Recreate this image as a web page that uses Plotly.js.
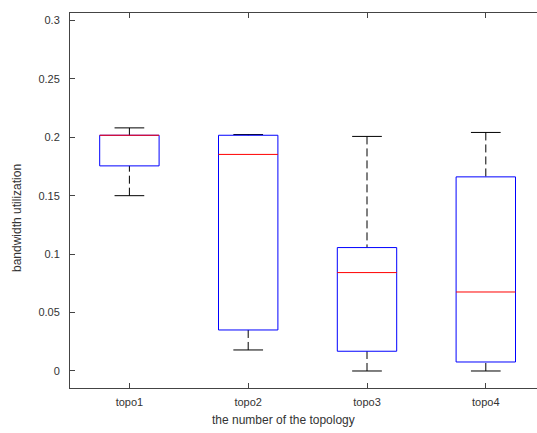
<!DOCTYPE html>
<html>
<head>
<meta charset="utf-8">
<script src="https://cdn.plot.ly/plotly-3.0.1.min.js"></script>
<style>html,body{margin:0;padding:0;background:#fff;}#chart{width:537px;height:433px;}</style>
</head>
<body>
<div id="chart"></div>
<script>
// Data
const categories   = ['topo1', 'topo2', 'topo3', 'topo4'];
const lowerWhisker = [0.150, 0.018, 0.000, 0.000];
const q1           = [0.1755, 0.0351, 0.0169, 0.0077];
const medians      = [0.2017, 0.1853, 0.0842, 0.0676];
const q3           = [0.2017, 0.2017, 0.1056, 0.1661];
const upperWhisker = [0.2080, 0.2023, 0.2007, 0.2041];
const yTicks       = [0, 0.05, 0.1, 0.15, 0.2, 0.25, 0.3];
const xTitle = 'the number of the topology';
const yTitle = 'bandwidth utilization';

const BOX_HALF = 0.25, CAP_HALF = 0.125;
const pos = categories.map((c, i) => i + 1);

const whX = [], whY = [], capX = [], capY = [], boxX = [], boxY = [], medX = [], medY = [];
pos.forEach((p, i) => {
  whX.push(p, p, null, p, p, null);
  whY.push(upperWhisker[i], q3[i], null, lowerWhisker[i], q1[i], null);
  capX.push(p - CAP_HALF, p + CAP_HALF, null, p - CAP_HALF, p + CAP_HALF, null);
  capY.push(upperWhisker[i], upperWhisker[i], null, lowerWhisker[i], lowerWhisker[i], null);
  boxX.push(p - BOX_HALF, p + BOX_HALF, p + BOX_HALF, p - BOX_HALF, p - BOX_HALF, null);
  boxY.push(q1[i], q1[i], q3[i], q3[i], q1[i], null);
  medX.push(p - BOX_HALF, p + BOX_HALF, null);
  medY.push(medians[i], medians[i], null);
});

const traces = [
  {x: whX, y: whY, mode: 'lines', line: {color: '#000', width: 1, dash: '8px,4px'}, hoverinfo: 'skip'},
  {x: capX, y: capY, mode: 'lines', line: {color: '#000', width: 1}, hoverinfo: 'skip'},
  {x: boxX, y: boxY, mode: 'lines', line: {color: '#0000ff', width: 1}, hoverinfo: 'skip'},
  {x: medX, y: medY, mode: 'lines', line: {color: '#ff0000', width: 1}, hoverinfo: 'skip'}
];

const font = {family: '"Liberation Sans", Arial, sans-serif', size: 11, color: '#333'};
const titleFont = {family: '"Liberation Sans", Arial, sans-serif', size: 12, color: '#333'};
const layout = {
  width: 537, height: 433,
  margin: {l: 70, r: 0, t: 13, b: 45, pad: 0},
  paper_bgcolor: '#fff', plot_bgcolor: '#fff',
  showlegend: false,
  font: font,
  xaxis: {
    range: [0.5, 4.431],
    tickvals: pos, ticktext: categories,
    ticks: 'inside', ticklen: 5, tickcolor: '#444', tickwidth: 1,
    showline: true, linecolor: '#444', linewidth: 1, mirror: 'ticks',
    showgrid: false, zeroline: false,
    tickfont: font, ticklabelstandoff: 4
  },
  yaxis: {
    range: [-0.01455, 0.3063],
    tickvals: yTicks,
    ticks: 'inside', ticklen: 5, tickcolor: '#444', tickwidth: 1,
    showline: true, linecolor: '#444', linewidth: 1,
    showgrid: false, zeroline: false,
    tickfont: font, ticklabelstandoff: 7
  },
  annotations: [
    {text: xTitle, xref: 'paper', yref: 'paper', x: (283 - 70) / 467, y: -32 / 375,
     xanchor: 'center', yanchor: 'middle', showarrow: false, font: titleFont},
    {text: yTitle, xref: 'paper', yref: 'paper', x: (17 - 70) / 467, y: (388 - 218) / 375,
     xanchor: 'center', yanchor: 'middle', textangle: -90, showarrow: false, font: titleFont}
  ]
};

Plotly.newPlot('chart', traces, layout, {displayModeBar: false, staticPlot: true});
</script>
</body>
</html>
